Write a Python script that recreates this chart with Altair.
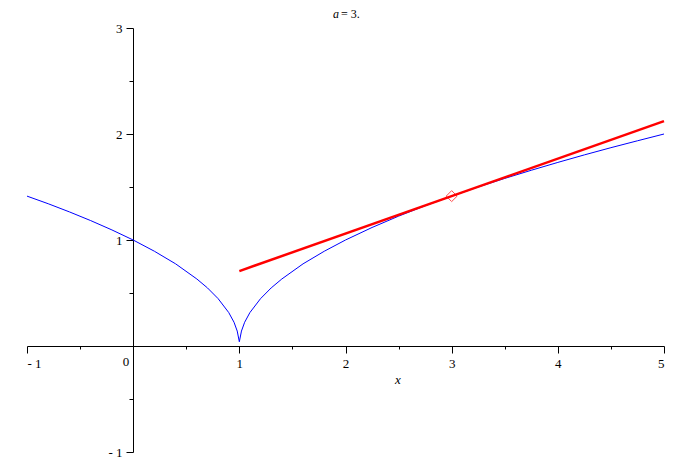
import altair as alt
import pandas as pd

# curve y = sqrt(|x-1|)
curve_x = [-1.0, -0.8, -0.6, -0.4, -0.2, 0.0, 0.2, 0.4, 0.6, 0.7, 0.8, 0.9, 0.95, 0.98, 1.0,
           1.02, 1.05, 1.1, 1.2, 1.3, 1.4, 1.6, 1.8, 2.0, 2.25, 2.5, 2.75, 3.0, 3.25, 3.5,
           3.75, 4.0, 4.25, 4.5, 4.75, 5.0]
curve_y = [1.414, 1.342, 1.265, 1.183, 1.095, 1.0, 0.894, 0.775, 0.632, 0.548, 0.447, 0.316,
           0.224, 0.141, 0.04, 0.141, 0.224, 0.316, 0.447, 0.548, 0.632, 0.775, 0.894, 1.0,
           1.118, 1.225, 1.323, 1.414, 1.5, 1.581, 1.658, 1.732, 1.803, 1.871, 1.936, 2.0]

# tangent line at x = 3
tangent_x = [1.0, 5.0]
tangent_y = [0.707, 2.121]

# marked point
point_x = [3.0]
point_y = [1.414]

x_major = [-1, 1, 2, 3, 4, 5]
x_minor = [-0.5, 0.5, 1.5, 2.5, 3.5, 4.5]
y_major = [-1, 1, 2, 3]
y_minor = [-0.5, 0.5, 1.5, 2.5]

FONT = "Liberation Serif"

curve_df = pd.DataFrame({"x": curve_x, "y": curve_y})
tan_df = pd.DataFrame({"x": tangent_x, "y": tangent_y})
pt_df = pd.DataFrame({"x": point_x, "y": point_y})

xs = alt.Scale(domain=[-1, 5], nice=False, zero=False)
ys = alt.Scale(domain=[-1, 3], nice=False, zero=False)

lab_expr = "datum.value < 0 ? '- ' + abs(datum.value) : datum.label"

x_axis_major = alt.Axis(values=x_major, orient="bottom", offset=-106, tickSize=7,
                        tickColor="black", domainColor="black", labelFont=FONT,
                        labelFontSize=13, labelColor="black", labelPadding=4,
                        grid=False, title=None, labelExpr=lab_expr)
y_axis_major = alt.Axis(values=y_major, orient="left", offset=-106, tickSize=7,
                        tickColor="black", domainColor="black", labelFont=FONT,
                        labelFontSize=13, labelColor="black", labelPadding=4,
                        grid=False, title=None, labelExpr=lab_expr)
x_axis_minor = alt.Axis(values=x_minor, orient="bottom", offset=-106, tickSize=3,
                        tickColor="black", domain=False, labels=False, grid=False, title=None)
y_axis_minor = alt.Axis(values=y_minor, orient="left", offset=-106, tickSize=4,
                        tickColor="black", domain=False, labels=False, grid=False, title=None)

curve = alt.Chart(curve_df).mark_line(color="#0000ff", strokeWidth=1).encode(
    x=alt.X("x:Q", scale=xs, axis=x_axis_major),
    y=alt.Y("y:Q", scale=ys, axis=y_axis_major),
)

minor = alt.Chart(curve_df).mark_line(opacity=0).encode(
    x=alt.X("x:Q", scale=xs, axis=x_axis_minor),
    y=alt.Y("y:Q", scale=ys, axis=y_axis_minor),
)

tangent = alt.Chart(tan_df).mark_line(color="#ff0000", strokeWidth=2.5).encode(
    x=alt.X("x:Q", scale=xs, axis=None),
    y=alt.Y("y:Q", scale=ys, axis=None),
)

point = alt.Chart(pt_df).mark_point(shape="diamond", color="#ff0000", filled=False,
                                    size=120, strokeWidth=1).encode(
    x=alt.X("x:Q", scale=xs, axis=None),
    y=alt.Y("y:Q", scale=ys, axis=None),
)

def label(txt, px, py, italic=False, align="center", baseline="middle", size=13):
    return alt.Chart(pd.DataFrame({"t": [txt]})).mark_text(
        font=FONT, fontSize=size, fontStyle="italic" if italic else "normal",
        color="black", align=align, baseline=baseline).encode(
        text="t:N", x=alt.value(px), y=alt.value(py))

title_a = label("a", 309, -19, italic=True, baseline="top", size=12)
title_rest = label("= 3.", 314, -19, align="left", baseline="top", size=12)
x_title = label("x", 371, 352, italic=True)
zero_lab = label("0", 99, 334)

chart = alt.layer(minor, curve, tangent, point, title_a, title_rest, x_title, zero_lab).resolve_axis(
    x="independent", y="independent"
).properties(
    width=637, height=424,
    autosize=alt.AutoSizeParams(type="none"),
    padding={"left": 19, "top": 20, "right": 20, "bottom": 7},
).configure_view(stroke=None)

chart.save("out.html", embed_options={"renderer": "svg", "actions": False})
